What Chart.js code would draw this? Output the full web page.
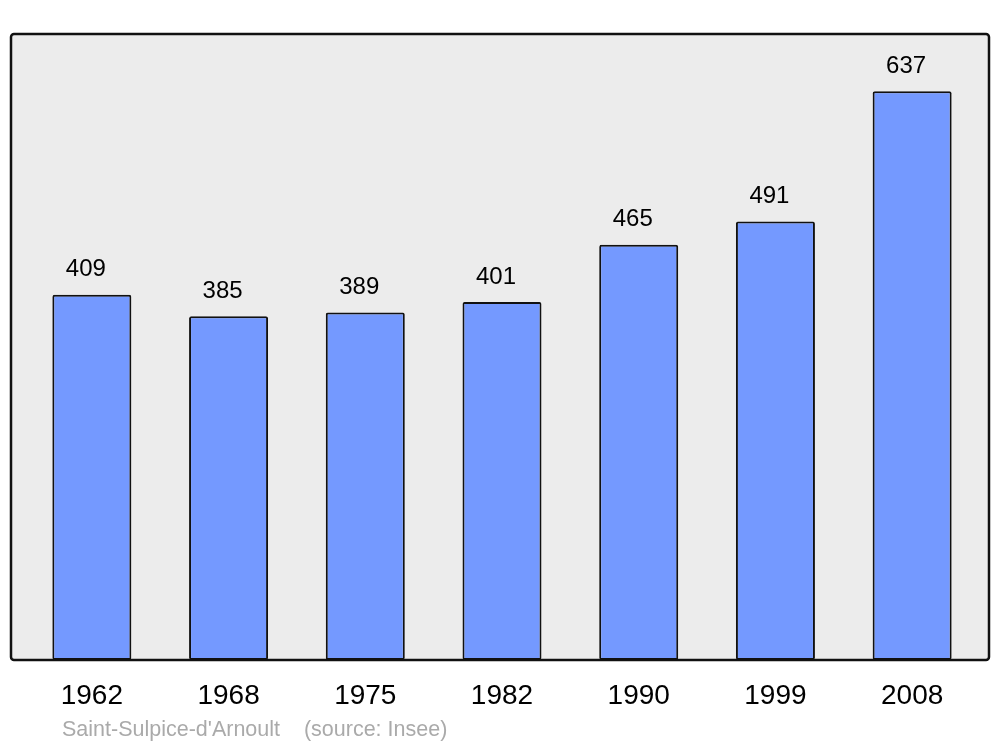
<!DOCTYPE html>
<html lang="fr">
<head>
  <meta charset="UTF-8">
  <title>Saint-Sulpice-d'Arnoult - population</title>
  <script src="https://cdn.jsdelivr.net/npm/chart.js"></script>
  <style>
    html, body { margin: 0; padding: 0; background: #fff; }
    #wrap { width: 1000px; height: 747px; position: relative; }
  </style>
</head>
<body>
  <div id="wrap"><canvas id="popChart" width="1000" height="747"></canvas></div>

  <script>
    const years = ['1962', '1968', '1975', '1982', '1990', '1999', '2008'];
    const population = [409, 385, 389, 401, 465, 491, 637];
    const sourceText = "Saint-Sulpice-d'Arnoult    (source: Insee)";

    // grey panel with black rounded frame behind the bars
    const panel = {
      id: 'panel',
      beforeDatasetsDraw(chart) {
        const c = chart.ctx;
        c.save();
        c.beginPath();
        c.roundRect(11, 34, 978, 626, 3);
        c.fillStyle = '#ececec';
        c.fill();
        c.restore();
      },
      afterDatasetsDraw(chart) {
        const c = chart.ctx;
        c.save();
        c.beginPath();
        c.roundRect(11, 34, 978, 626, 3);
        c.lineWidth = 2.5;
        c.strokeStyle = '#111';
        c.stroke();

        // value labels above each bar
        c.font = '24px "Liberation Sans", Arial, sans-serif';
        c.fillStyle = '#000';
        c.textAlign = 'center';
        c.textBaseline = 'middle';
        chart.getDatasetMeta(0).data.forEach((bar, i) => {
          c.fillText(population[i], bar.x - 6, bar.y - 25);
        });

        c.font = '21.5px "Liberation Sans", Arial, sans-serif';
        c.fillStyle = '#aaaaaa';
        c.textAlign = 'left';
        c.fillText(sourceText, 62, 730);
        c.restore();
      }
    };

    new Chart(document.getElementById('popChart'), {
      type: 'bar',
      data: {
        labels: years,
        datasets: [{
          data: population,
          backgroundColor: '#7499ff',
          borderColor: '#111',
          borderWidth: 2,
          borderRadius: 2,
          borderSkipped: false,
          categoryPercentage: 1,
          barPercentage: 0.578
        }]
      },
      options: {
        responsive: false,
        animation: false,
        layout: { padding: { left: 23.5, right: 19.5, top: 34, bottom: 0 } },
        plugins: { legend: { display: false }, tooltip: { enabled: false } },
        scales: {
          x: {
            grid: { display: false },
            border: { display: false },
            ticks: {
              color: '#000',
              padding: 11,
              font: { size: 28, family: '"Liberation Sans", Arial, sans-serif' }
            },
            afterFit(scale) { scale.height = 87; }
          },
          y: {
            display: false,
            min: 0,
            max: 701
          }
        }
      },
      plugins: [panel]
    });
  </script>
</body>
</html>
